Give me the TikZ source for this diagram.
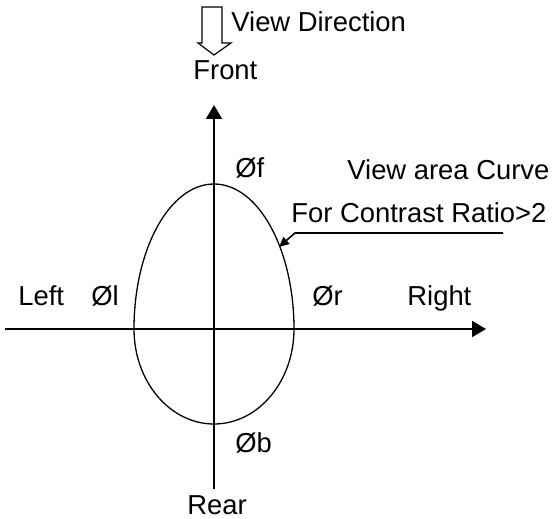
\documentclass[tikz,border=0pt]{standalone}
\usepackage{fontspec}
\setmainfont{Liberation Sans}
\usetikzlibrary{arrows.meta}
\begin{document}
\begin{tikzpicture}[x=0.5pt,y=-0.5pt,
  lbl/.style={inner sep=0pt,anchor=base west,font=\fontsize{13.7}{16}\selectfont},
  axis/.style={line width=1pt,-{Triangle[length=7pt,width=8pt]}},
  curve/.style={line width=0.65pt}]
\useasboundingbox (0,0) rectangle (553,519);
% hollow view arrow
\draw[line width=0.6pt,line join=miter] (202,7) -- (222,7) -- (222,43) -- (231,43) -- (214,55) -- (198,43) -- (202,43) -- cycle;
\node[lbl] (vd) at (231,32) {View Direction};
\node[lbl] (front) at (193,80) {Front};
% axes
\coordinate (hl) at (5,329);
\coordinate (hr) at (486,329);
\coordinate (vb) at (214,489);
\coordinate (vt) at (214,105);
\draw[axis] (hl) -- (hr);
\draw[axis] (vb) -- (vt);
% egg curve
\coordinate (eL) at (134,329);
\draw[curve] (eL) arc[start angle=180,end angle=360,x radius=80,y radius=145]
  arc[start angle=0,end angle=180,x radius=80,y radius=95];
% labels
\node[lbl] (phf) at (235,178) {Øf};
\node[lbl] (phl) at (91,306) {Øl};
\node[lbl] (phr) at (312,306) {Ør};
\node[lbl] (phb) at (235,453) {Øb};
\node[lbl] (left) at (18,306) {Left};
\node[lbl] (right) at (407,306) {Right};
\node[lbl] (rear) at (187,515) {Rear};
\node[lbl] (va) at (347,180) {View area Curve};
\node[lbl] (cr) at (291,223) {For Contrast Ratio>2};
% annotation
\coordinate (u1) at (503,233);
\coordinate (u2) at (295,233);
\coordinate (tip) at (279,247);
\draw[line width=0.8pt,-{Triangle[length=5pt,width=4.5pt]}] (u1) -- (u2) -- (tip);
\end{tikzpicture}
\end{document}
